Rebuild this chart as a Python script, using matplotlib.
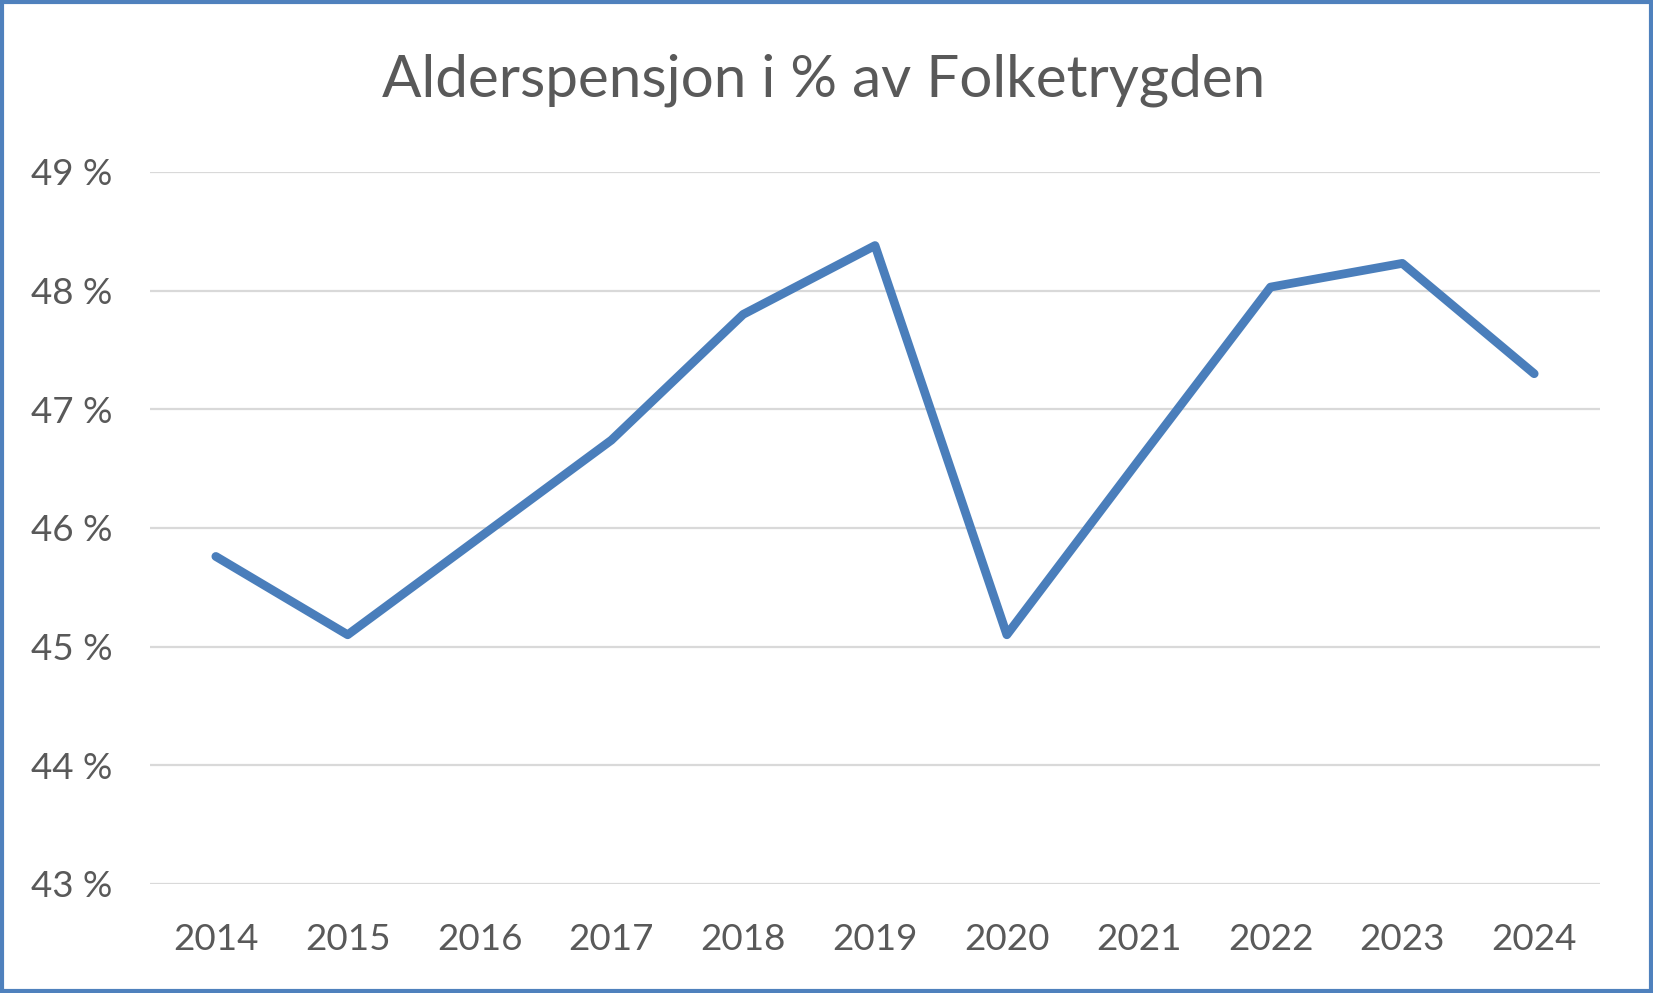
import numpy as np
import matplotlib.pyplot as plt
from matplotlib.patches import Rectangle
from matplotlib.ticker import FuncFormatter

years = ['2014', '2015', '2016', '2017', '2018', '2019', '2020', '2021', '2022', '2023', '2024']
share = [45.76, 45.10, 45.92, 46.74, 47.80, 48.38, 45.10, 46.57, 48.03, 48.23, 47.30]

plt.rcParams['font.family'] = ['Lato', 'DejaVu Sans']
grey = '#595959'
blue = '#4A7EBB'

fig = plt.figure(figsize=(16.53, 9.93), dpi=100)
ax = fig.add_axes([0.0907, 0.1098, 0.8773, 0.717])

x = np.arange(len(years))
ax.plot(x, share, color=blue, lw=6.3, solid_joinstyle='round', solid_capstyle='round', zorder=3)

ax.set_xlim(-0.5, len(years) - 0.5)
ax.set_ylim(43, 49)
ax.set_yticks(range(43, 50))
ax.yaxis.set_major_formatter(FuncFormatter(lambda v, p: '{:d} %'.format(int(v))))
ax.set_xticks(x)
ax.set_xticklabels(years)

ax.grid(axis='y', color='#D9D9D9', lw=1.6)
ax.set_axisbelow(True)
for s in ax.spines.values():
    s.set_visible(False)
ax.tick_params(length=0, labelsize=26.5, labelcolor=grey)
ax.tick_params(axis='y', pad=27)
ax.tick_params(axis='x', pad=28)

fig.text(0.4985, 0.919, 'Alderspensjon i % av Folketrygden', ha='center', va='center',
         fontsize=42, color=grey)

# blue frame round the chart
fig.patches.append(Rectangle((0.0012, 0.002), 0.9976, 0.996, transform=fig.transFigure,
                             fill=False, edgecolor='#4F81BD', lw=3))

plt.savefig('out.png', dpi=100)
